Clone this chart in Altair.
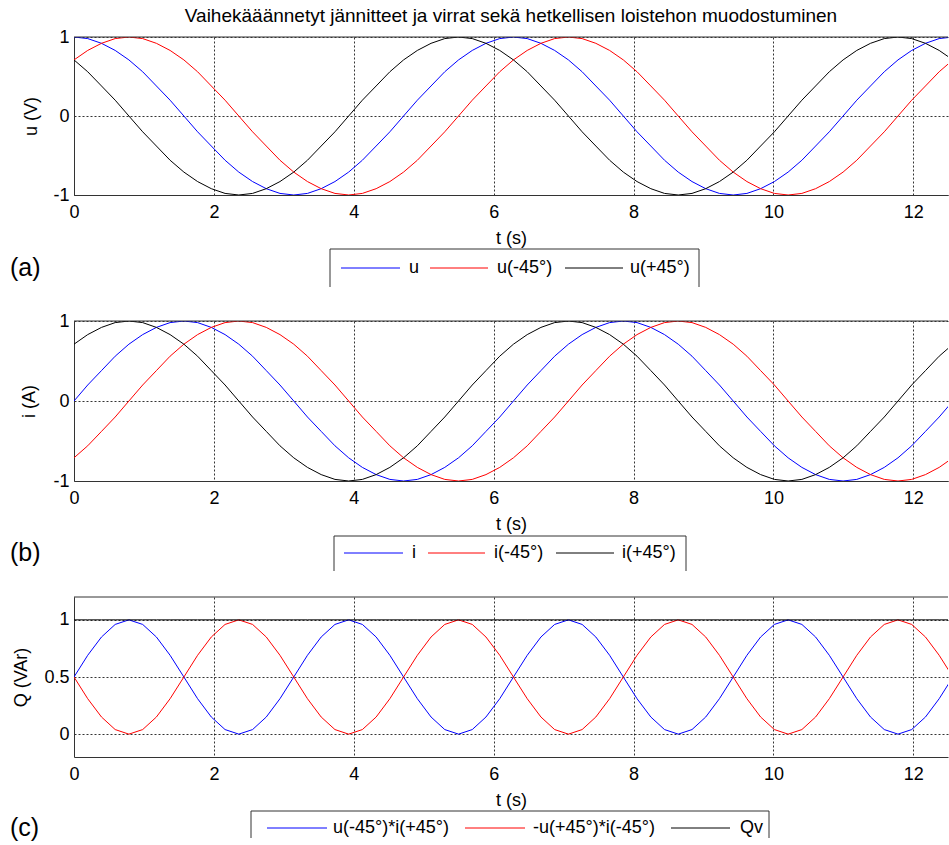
import altair as alt
import pandas as pd

# Time samples (s), two full periods
T = [0.000, 0.196, 0.393, 0.589, 0.785, 0.982, 1.178, 1.374,
     1.571, 1.767, 1.963, 2.160, 2.356, 2.553, 2.749, 2.945,
     3.142, 3.338, 3.534, 3.731, 3.927, 4.123, 4.320, 4.516,
     4.712, 4.909, 5.105, 5.301, 5.498, 5.694, 5.890, 6.087,
     6.283, 6.480, 6.676, 6.872, 7.069, 7.265, 7.461, 7.658,
     7.854, 8.050, 8.247, 8.443, 8.639, 8.836, 9.032, 9.228,
     9.425, 9.621, 9.817, 10.014, 10.210, 10.407, 10.603, 10.799,
     10.996, 11.192, 11.388, 11.585, 11.781, 11.977, 12.174, 12.370,
     12.566]

# Voltages (V)
U = [1.00, 0.98, 0.92, 0.83, 0.71, 0.56, 0.38, 0.20,
     0.00, -0.20, -0.38, -0.56, -0.71, -0.83, -0.92, -0.98,
     -1.00, -0.98, -0.92, -0.83, -0.71, -0.56, -0.38, -0.20,
     0.00, 0.20, 0.38, 0.56, 0.71, 0.83, 0.92, 0.98,
     1.00, 0.98, 0.92, 0.83, 0.71, 0.56, 0.38, 0.20,
     0.00, -0.20, -0.38, -0.56, -0.71, -0.83, -0.92, -0.98,
     -1.00, -0.98, -0.92, -0.83, -0.71, -0.56, -0.38, -0.20,
     0.00, 0.20, 0.38, 0.56, 0.71, 0.83, 0.92, 0.98,
     1.00]
U_M45 = [0.71, 0.83, 0.92, 0.98, 1.00, 0.98, 0.92, 0.83,
         0.71, 0.56, 0.38, 0.20, 0.00, -0.20, -0.38, -0.56,
         -0.71, -0.83, -0.92, -0.98, -1.00, -0.98, -0.92, -0.83,
         -0.71, -0.56, -0.38, -0.20, 0.00, 0.20, 0.38, 0.56,
         0.71, 0.83, 0.92, 0.98, 1.00, 0.98, 0.92, 0.83,
         0.71, 0.56, 0.38, 0.20, 0.00, -0.20, -0.38, -0.56,
         -0.71, -0.83, -0.92, -0.98, -1.00, -0.98, -0.92, -0.83,
         -0.71, -0.56, -0.38, -0.20, 0.00, 0.20, 0.38, 0.56,
         0.71]
U_P45 = [0.71, 0.56, 0.38, 0.20, 0.00, -0.20, -0.38, -0.56,
         -0.71, -0.83, -0.92, -0.98, -1.00, -0.98, -0.92, -0.83,
         -0.71, -0.56, -0.38, -0.20, 0.00, 0.20, 0.38, 0.56,
         0.71, 0.83, 0.92, 0.98, 1.00, 0.98, 0.92, 0.83,
         0.71, 0.56, 0.38, 0.20, 0.00, -0.20, -0.38, -0.56,
         -0.71, -0.83, -0.92, -0.98, -1.00, -0.98, -0.92, -0.83,
         -0.71, -0.56, -0.38, -0.20, 0.00, 0.20, 0.38, 0.56,
         0.71, 0.83, 0.92, 0.98, 1.00, 0.98, 0.92, 0.83,
         0.71]

# Currents (A)
I = [0.00, 0.20, 0.38, 0.56, 0.71, 0.83, 0.92, 0.98,
     1.00, 0.98, 0.92, 0.83, 0.71, 0.56, 0.38, 0.20,
     0.00, -0.20, -0.38, -0.56, -0.71, -0.83, -0.92, -0.98,
     -1.00, -0.98, -0.92, -0.83, -0.71, -0.56, -0.38, -0.20,
     0.00, 0.20, 0.38, 0.56, 0.71, 0.83, 0.92, 0.98,
     1.00, 0.98, 0.92, 0.83, 0.71, 0.56, 0.38, 0.20,
     0.00, -0.20, -0.38, -0.56, -0.71, -0.83, -0.92, -0.98,
     -1.00, -0.98, -0.92, -0.83, -0.71, -0.56, -0.38, -0.20,
     0.00]
I_M45 = [-0.71, -0.56, -0.38, -0.20, 0.00, 0.20, 0.38, 0.56,
         0.71, 0.83, 0.92, 0.98, 1.00, 0.98, 0.92, 0.83,
         0.71, 0.56, 0.38, 0.20, 0.00, -0.20, -0.38, -0.56,
         -0.71, -0.83, -0.92, -0.98, -1.00, -0.98, -0.92, -0.83,
         -0.71, -0.56, -0.38, -0.20, 0.00, 0.20, 0.38, 0.56,
         0.71, 0.83, 0.92, 0.98, 1.00, 0.98, 0.92, 0.83,
         0.71, 0.56, 0.38, 0.20, 0.00, -0.20, -0.38, -0.56,
         -0.71, -0.83, -0.92, -0.98, -1.00, -0.98, -0.92, -0.83,
         -0.71]
I_P45 = [0.71, 0.83, 0.92, 0.98, 1.00, 0.98, 0.92, 0.83,
         0.71, 0.56, 0.38, 0.20, 0.00, -0.20, -0.38, -0.56,
         -0.71, -0.83, -0.92, -0.98, -1.00, -0.98, -0.92, -0.83,
         -0.71, -0.56, -0.38, -0.20, 0.00, 0.20, 0.38, 0.56,
         0.71, 0.83, 0.92, 0.98, 1.00, 0.98, 0.92, 0.83,
         0.71, 0.56, 0.38, 0.20, 0.00, -0.20, -0.38, -0.56,
         -0.71, -0.83, -0.92, -0.98, -1.00, -0.98, -0.92, -0.83,
         -0.71, -0.56, -0.38, -0.20, 0.00, 0.20, 0.38, 0.56,
         0.71]

# Instantaneous reactive power (VAr)
Q_A = [0.50, 0.69, 0.85, 0.96, 1.00, 0.96, 0.85, 0.69,
       0.50, 0.31, 0.15, 0.04, 0.00, 0.04, 0.15, 0.31,
       0.50, 0.69, 0.85, 0.96, 1.00, 0.96, 0.85, 0.69,
       0.50, 0.31, 0.15, 0.04, 0.00, 0.04, 0.15, 0.31,
       0.50, 0.69, 0.85, 0.96, 1.00, 0.96, 0.85, 0.69,
       0.50, 0.31, 0.15, 0.04, 0.00, 0.04, 0.15, 0.31,
       0.50, 0.69, 0.85, 0.96, 1.00, 0.96, 0.85, 0.69,
       0.50, 0.31, 0.15, 0.04, 0.00, 0.04, 0.15, 0.31,
       0.50]
Q_B = [0.50, 0.31, 0.15, 0.04, 0.00, 0.04, 0.15, 0.31,
       0.50, 0.69, 0.85, 0.96, 1.00, 0.96, 0.85, 0.69,
       0.50, 0.31, 0.15, 0.04, 0.00, 0.04, 0.15, 0.31,
       0.50, 0.69, 0.85, 0.96, 1.00, 0.96, 0.85, 0.69,
       0.50, 0.31, 0.15, 0.04, 0.00, 0.04, 0.15, 0.31,
       0.50, 0.69, 0.85, 0.96, 1.00, 0.96, 0.85, 0.69,
       0.50, 0.31, 0.15, 0.04, 0.00, 0.04, 0.15, 0.31,
       0.50, 0.69, 0.85, 0.96, 1.00, 0.96, 0.85, 0.69,
       0.50]
QV = [1.00] * len(T)

X_TICKS = [0, 2, 4, 6, 8, 10, 12]
TITLE = "Vaihekääännetyt jännitteet ja virrat sekä hetkellisen loistehon muodostuminen"

data = pd.DataFrame({"t": T, "u": U, "u_m45": U_M45, "u_p45": U_P45,
                     "i": I, "i_m45": I_M45, "i_p45": I_P45,
                     "q_a": Q_A, "q_b": Q_B, "qv": QV})
one = pd.DataFrame({"k": [0]})

FONT = "Liberation Sans"
W = 874
X_MAX = 12.496
BLUE, RED, BLACK = "#0000ff", "#ff0000", "#000000"
EDGE = "#333333"

x_scale = alt.Scale(domain=[0, X_MAX], nice=False, zero=False)
x_axis = alt.Axis(values=X_TICKS, title="t (s)", grid=True, gridColor="#000000",
                  gridDash=[2, 2], gridWidth=0.8, ticks=False, tickSize=0,
                  domainColor=EDGE, domainWidth=1, labelFont=FONT, labelFontSize=18,
                  labelColor="#000000", labelPadding=8, labelFlush=False,
                  labelOverlap=False, titleFont=FONT, titleFontSize=18,
                  titleFontWeight="normal", titleColor="#000000", titlePadding=8)


def y_axis(values, title, title_pad):
    return alt.Axis(values=values, title=title, grid=True, gridColor="#000000",
                    gridDash=[2, 2], gridWidth=0.8, ticks=False, tickSize=0,
                    domainColor=EDGE, domainWidth=1, labelFont=FONT, labelFontSize=18,
                    labelColor="#000000", labelPadding=5, labelFlush=False,
                    labelOverlap=False, labelExpr="'' + datum.value",
                    titleFont=FONT, titleFontSize=18, titleFontWeight="normal",
                    titleColor="#000000", titlePadding=title_pad)


def rule(x1, x2, y1, y2, color=EDGE, opacity=1.0):
    return alt.Chart(one).mark_rule(color=color, strokeWidth=1, strokeOpacity=opacity).encode(
        x=alt.value(x1), x2=alt.value(x2), y=alt.value(y1), y2=alt.value(y2))


def text(label, x, y, size, align="left"):
    return alt.Chart(one).mark_text(text=label, font=FONT, fontSize=size, align=align,
                                    baseline="middle", color="#000000").encode(
        x=alt.value(x), y=alt.value(y))


legend_names = {
    "(a)": ["u", "u(-45°)", "u(+45°)"],
    "(b)": ["i", "i(-45°)", "i(+45°)"],
    "(c)": ["u(-45°)*i(+45°)", "-u(+45°)*i(-45°)", "Qv"],
}


def panel(series, y_domain, y_ticks, y_title, y_title_pad, height, legend, tag,
          bounds, extra=()):
    ys = alt.Scale(domain=y_domain, nice=False, zero=False)
    ya = y_axis(y_ticks, y_title, y_title_pad)
    layers = []
    for field, color in series:
        layers.append(alt.Chart(data).mark_line(color=color, strokeWidth=1, clip=True).encode(
            x=alt.X("t:Q", scale=x_scale, axis=x_axis),
            y=alt.Y(f"{field}:Q", scale=ys, axis=ya)))
    # top edge of the axes box
    layers.append(rule(0, W, 0, 0))
    # legend box (open at the bottom) and its entries
    bx1, bx2, btop, bbot, ty, entries = legend
    layers.append(rule(bx1, bx2, btop, btop))
    layers.append(rule(bx1, bx1, btop, bbot))
    layers.append(rule(bx2, bx2, btop, bbot))
    colors = [s[1] for s in series]
    for name, color, (lx1, lx2, tx) in zip(legend_names[tag], colors, entries):
        layers.append(rule(lx1, lx2, ty, ty, color=color))
        layers.append(text(name, tx, ty, 18))
    # subplot tag
    layers.append(text(tag, -64, ty, 25))
    # invisible frame that fixes the panel's extent in the stacked layout
    layers.append(rule(-74, -74, bounds[0], bounds[1], opacity=0.0))
    layers.extend(extra)
    return alt.layer(*layers).properties(width=W, height=height)


pa = panel([("u", BLUE), ("u_m45", RED), ("u_p45", BLACK)],
           [-1, 1], [-1, 0, 1], "u (V)", 12, 158,
           (256, 625, 212, 250, 231, [(267, 326, 335), (356, 414, 423), (491, 549, 556)]),
           "(a)", (-37, 263),
           extra=[text(TITLE, 437, -21, 19, align="center")])

pb = panel([("i", BLUE), ("i_m45", RED), ("i_p45", BLACK)],
           [-1, 1], [-1, 0, 1], "i (A)", 14, 160,
           (260, 612, 215, 250, 232, [(270, 329, 338), (354, 411, 420), (482, 540, 548)]),
           "(b)", (-21, 257))

pc = panel([("q_a", BLUE), ("q_b", RED), ("qv", BLACK)],
           [-0.2, 1.2], [0, 0.5, 1], "Q (VAr)", 13, 160,
           (177, 695, 214, 241, 231, [(193, 253, 259), (391, 451, 459), (597, 656, 666)]),
           "(c)", (-19, 241))

chart = (
    alt.vconcat(pa, pb, pc, spacing=0)
    .properties(padding={"left": 0, "top": 0, "right": 0, "bottom": 0}, background="white")
    .configure_view(stroke=None)
)

chart.save("out.html", embed_options={"renderer": "svg", "actions": False})
